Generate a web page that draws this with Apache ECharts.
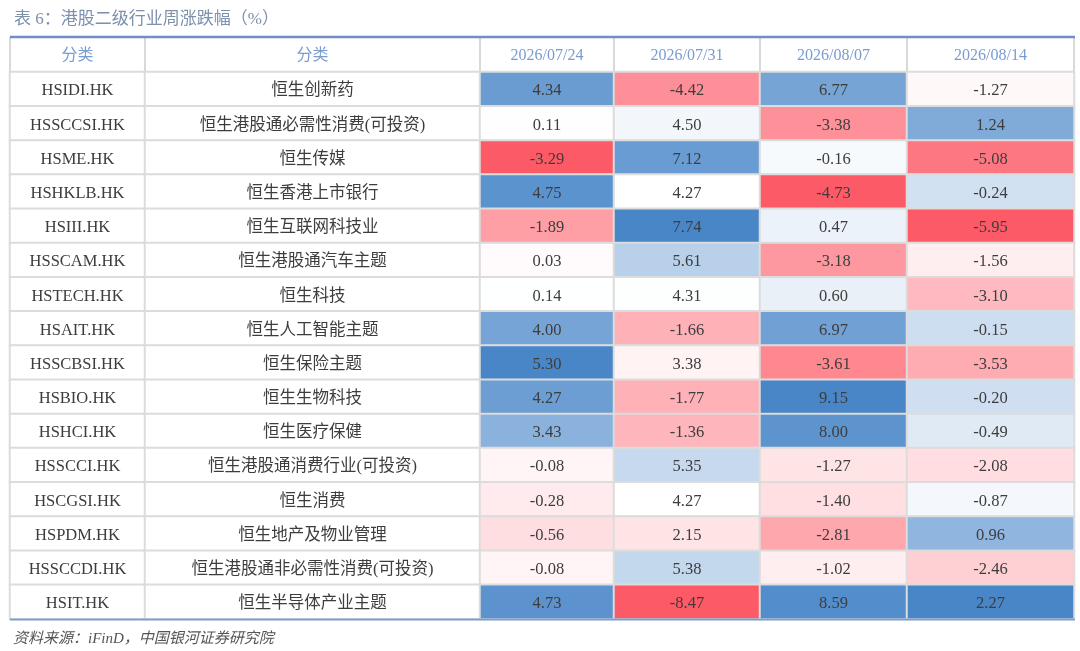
<!DOCTYPE html>
<html><head><meta charset="utf-8">
<script src="https://cdn.jsdelivr.net/npm/echarts@6/dist/echarts.min.js"></script>
<style>html,body{margin:0;padding:0;background:#fff}#c{width:1080px;height:651px}</style>
</head><body><div id="c"></div>
<script>
const headers = ['分类', '分类', '2026/07/24', '2026/07/31', '2026/08/07', '2026/08/14'];
const codes = ['HSIDI.HK','HSSCCSI.HK','HSME.HK','HSHKLB.HK','HSIII.HK','HSSCAM.HK','HSTECH.HK','HSAIT.HK','HSSCBSI.HK','HSBIO.HK','HSHCI.HK','HSSCCI.HK','HSCGSI.HK','HSPDM.HK','HSSCCDI.HK','HSIT.HK'];
const names = ['恒生创新药','恒生港股通必需性消费(可投资)','恒生传媒','恒生香港上市银行','恒生互联网科技业','恒生港股通汽车主题','恒生科技','恒生人工智能主题','恒生保险主题','恒生生物科技','恒生医疗保健','恒生港股通消费行业(可投资)','恒生消费','恒生地产及物业管理','恒生港股通非必需性消费(可投资)','恒生半导体产业主题'];
const w0724 = [4.34,0.11,-3.29,4.75,-1.89,0.03,0.14,4.00,5.30,4.27,3.43,-0.08,-0.28,-0.56,-0.08,4.73];
const w0731 = [-4.42,4.50,7.12,4.27,7.74,5.61,4.31,-1.66,3.38,-1.77,-1.36,5.35,4.27,2.15,5.38,-8.47];
const w0807 = [6.77,-3.38,-0.16,-4.73,0.47,-3.18,0.60,6.97,-3.61,9.15,8.00,-1.27,-1.40,-2.81,-1.02,8.59];
const w0814 = [-1.27,1.24,-5.08,-0.24,-5.95,-1.56,-3.10,-0.15,-3.53,-0.20,-0.49,-2.08,-0.87,0.96,-2.46,2.27];
const weeks = [w0724, w0731, w0807, w0814];

const FONT = '"Liberation Serif", "Noto Sans CJK SC", serif';
const TXT = '#3d3d3d';
const cols = [[10,135],[145,335],[480,134],[614,146],[760,147],[907,167]];
const TOP = 72, H = 547;

function median(a){const s=[...a].sort((x,y)=>x-y);const n=s.length;return n%2?s[(n-1)/2]:(s[n/2-1]+s[n/2])/2;}
function normCol(a){
  const mn=Math.min(...a), mx=Math.max(...a), md=median(a);
  return a.map(v=> v<=md ? 0.5*(v-mn)/(md-mn) : 0.5+0.5*(v-md)/(mx-md));
}

const grid=[], xAxis=[], yAxis=[], series=[], visualMap=[];
cols.forEach((c,i)=>{
  grid.push({left:c[0], top:TOP, width:c[1], height:H});
  xAxis.push({type:'category', gridIndex:i, position:'top', data:[headers[i]],
    axisLine:{show:true, lineStyle:{color:'#6f8fc6', width:2}},
    axisTick:{show:true, length:35, lineStyle:{color:'#d9d9d9', width:2}},
    axisLabel:{color:'#7a9bd2', fontSize:16, fontFamily:FONT, margin:6, lineHeight:20},
    splitLine:{show:false}});
  yAxis.push({type:'category', gridIndex:i, inverse:true, data:codes,
    axisLine:{show:false}, axisTick:{show:false}, axisLabel:{show:false}, splitLine:{show:false}});
});
const textCols=[codes, names];
textCols.forEach((arr,i)=>{
  series.push({type:'heatmap', xAxisIndex:i, yAxisIndex:i,
    data: arr.map((t,r)=>[0,r,0]),
    itemStyle:{color:'#ffffff', borderColor:'#dcdcdc', borderWidth:2},
    label:{show:true, color:TXT, fontSize:16.5, fontFamily:FONT, offset:[0,2], formatter:p=>arr[p.data[1]]},
    emphasis:{disabled:true}, silent:true});
});
weeks.forEach((w,k)=>{
  const i=k+2, nv=normCol(w);
  series.push({type:'heatmap', xAxisIndex:i, yAxisIndex:i,
    data: w.map((v,r)=>[0,r,v,nv[r]]),
    itemStyle:{borderColor:'#dcdcdc', borderWidth:2},
    label:{show:true, color:TXT, fontSize:16.5, fontFamily:FONT, offset:[0,2], formatter:p=>p.data[2].toFixed(2)},
    emphasis:{disabled:true}, silent:true});
  visualMap.push({type:'continuous', show:false, seriesIndex:i, dimension:3, min:0, max:1,
    inRange:{color:['#fd5a67','#ffffff','#4886c8']}});
});

const chart = echarts.init(document.getElementById('c'));
chart.setOption({
  animation:false,
  backgroundColor:'#ffffff',
  title:[
    {text:'表 6：港股二级行业周涨跌幅（%）', left:9, top:6,
      textStyle:{color:'#7d90ac', fontSize:17, fontWeight:'normal', fontFamily:FONT}},
    {text:'资料来源：iFinD，中国银河证券研究院', left:8, top:627,
      textStyle:{color:'#555555', fontSize:15, fontWeight:'normal', fontStyle:'italic', fontFamily:FONT}}
  ],
  grid, xAxis, yAxis, series, visualMap,
  graphic:[
    {type:'line', z:100, shape:{x1:10, y1:37, x2:1075, y2:37}, style:{stroke:'#6f8fc6', lineWidth:2.5}},
    {type:'line', z:100, shape:{x1:10, y1:619.5, x2:1075, y2:619.5}, style:{stroke:'#7f9fd0', lineWidth:2}}
  ]
});
</script></body></html>
